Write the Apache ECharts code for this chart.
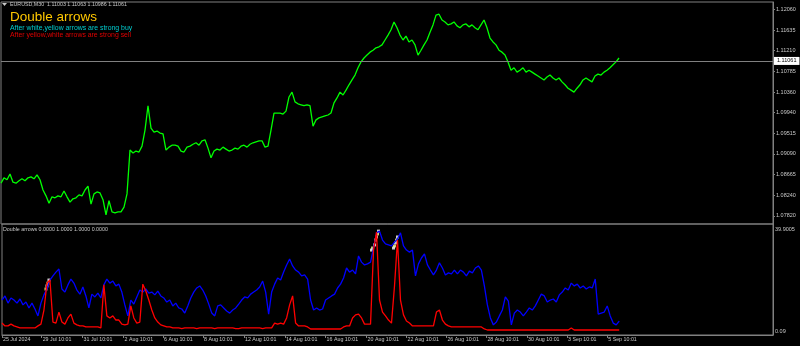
<!DOCTYPE html>
<html><head><meta charset="utf-8">
<script src="https://cdn.jsdelivr.net/npm/echarts@6/dist/echarts.min.js"></script>
<style>html,body{margin:0;padding:0;background:#000;}#c{width:800px;height:346px;}</style>
</head><body><div id="c"></div>
<script>
// ---- header texts ----
const symbolName = "EURUSD,M30";
const ohlc = ["1.11003", "1.11063", "1.10986", "1.11061"];
const indicatorName = "Double arrows";
const indicatorBuffers = ["0.0000", "1.0000", "1.0000", "0.0000"];
const noteBuy = "After white,yellow arrows are strong buy";
const noteSell = "After yellow,white arrows are strong sell";
const lastPrice = 1.11061;

// ---- axes ----
const priceTicks = [1.07820, 1.08240, 1.08665, 1.09090, 1.09515, 1.09940, 1.10360, 1.10785, 1.11210, 1.11635, 1.12060];
const priceMin = 1.07652, priceMax = 1.12210;
const indTicks = [0.09, 39.9005];
const indMin = -1.35, indMax = 41.97;
const xTickLabels = ["25 Jul 2024", "29 Jul 10:01", "31 Jul 10:01", "2 Aug 10:01", "6 Aug 10:01", "8 Aug 10:01", "12 Aug 10:01", "14 Aug 10:01", "16 Aug 10:01", "20 Aug 10:01", "22 Aug 10:01", "26 Aug 10:01", "28 Aug 10:01", "30 Aug 10:01", "3 Sep 10:01", "5 Sep 10:01"];
const xTickPos = [0, 13.23, 26.9, 40.57, 53.77, 67.1, 80.77, 94.43, 108, 121.67, 135, 148.33, 161.67, 175.23, 188.57, 202];
const xMax = 257.33;

// ---- series (one sample per step) ----
const priceClose = [
1.0849,1.0860,1.0856,1.0868,1.0851,1.0849,1.0854,1.0858,1.0854,1.0860,
1.0862,1.0858,1.0866,1.0856,1.0835,1.0823,1.0808,1.0821,1.0819,1.0823,
1.0821,1.0833,1.0821,1.0810,1.0817,1.0819,1.0825,1.0823,1.0835,1.0843,
1.0806,1.0827,1.0831,1.0829,1.0815,1.0784,1.0813,1.0790,1.0788,1.0790,
1.0790,1.0800,1.0827,1.0917,1.0911,1.0915,1.0913,1.0925,1.0958,1.1008,
1.0962,1.0954,1.0956,1.0952,1.0950,1.0917,1.0923,1.0927,1.0927,1.0925,
1.0915,1.0913,1.0923,1.0925,1.0929,1.0932,1.0927,1.0936,1.0938,1.0921,
1.0901,1.0915,1.0919,1.0917,1.0923,1.0919,1.0915,1.0917,1.0921,1.0919,
1.0925,1.0927,1.0923,1.0929,1.0932,1.0934,1.0936,1.0936,1.0923,1.0925,
1.0958,1.0993,1.0993,1.0993,1.0991,1.0997,1.1026,1.1036,1.1016,1.1012,
1.1010,1.1008,1.1010,1.1008,1.0966,1.0979,1.0983,1.0985,1.0987,1.0989,
1.0993,1.1014,1.1024,1.1036,1.1030,1.1040,1.1051,1.1061,1.1071,1.1086,
1.1098,1.1106,1.1112,1.1118,1.1122,1.1127,1.1129,1.1133,1.1143,1.1153,
1.1164,1.1180,1.1168,1.1153,1.1143,1.1151,1.1139,1.1143,1.1133,1.1112,
1.1122,1.1133,1.1143,1.1159,1.1174,1.1194,1.1196,1.1184,1.1180,1.1174,
1.1176,1.1180,1.1172,1.1168,1.1174,1.1176,1.1170,1.1174,1.1168,1.1164,
1.1174,1.1184,1.1168,1.1147,1.1139,1.1133,1.1122,1.1118,1.1112,1.1098,
1.1081,1.1086,1.1077,1.1081,1.1086,1.1077,1.1081,1.1077,1.1073,1.1069,
1.1065,1.1061,1.1067,1.1071,1.1065,1.1061,1.1065,1.1057,1.1051,1.1044,
1.1040,1.1036,1.1044,1.1051,1.1061,1.1065,1.1061,1.1057,1.1069,1.1073,
1.1071,1.1077,1.1081,1.1086,1.1092,1.1098,1.1106];

const blueLine = [
12.3,13.9,11.1,13.1,12.3,11.1,12.7,10.4,11.5,9.2,
11.1,8.8,6.1,11.1,14.3,16.6,20.1,21.7,23.2,24.4,
16.6,15.4,18.2,20.5,18.9,16.2,14.6,17.4,13.9,9.2,
14.6,13.5,15.0,13.1,18.2,20.5,18.9,19.7,17.8,18.5,
15.4,10.4,6.1,12.3,10.7,13.5,16.2,15.4,16.6,15.0,
15.4,14.3,15.8,13.9,13.1,11.5,12.3,10.0,11.1,9.2,
8.8,7.2,10.0,13.1,15.4,17.0,17.8,16.2,13.9,10.7,
7.2,6.1,10.0,10.4,9.2,8.0,7.2,8.4,9.2,10.7,
12.3,13.5,13.1,14.6,15.4,16.2,17.4,19.7,15.4,6.8,
15.4,18.5,20.9,20.1,23.2,26.0,28.3,25.6,24.0,23.2,
21.7,22.1,20.5,12.3,8.4,9.2,8.4,8.8,12.3,13.1,
13.9,14.6,17.0,18.5,20.9,24.8,23.2,24.0,22.5,29.5,
27.1,26.0,26.4,27.1,32.6,38.5,39.2,35.7,34.2,33.8,
33.4,34.9,36.1,38.5,33.4,31.8,31.0,31.8,21.7,26.4,
28.7,30.3,26.0,24.0,22.1,24.0,26.8,24.8,22.1,22.9,
22.5,24.0,22.5,24.0,23.2,21.7,23.6,22.9,24.8,25.6,
24.0,17.8,10.4,5.3,2.6,3.7,6.1,8.4,13.5,11.9,
2.6,7.2,8.4,7.6,6.1,7.6,9.2,8.4,10.0,12.3,
14.6,13.9,11.5,12.3,12.7,11.5,14.3,15.4,17.0,16.2,
18.9,17.8,18.5,17.0,17.8,16.6,17.4,17.0,20.5,6.8,
7.2,7.6,10.0,6.1,3.3,2.6,4.1];

const redLine = [
3.3,2.2,2.2,2.9,2.2,1.8,1.4,1.4,1.4,1.4,
1.4,1.4,2.2,2.9,8.4,18.9,20.1,3.7,3.3,7.6,
3.7,2.9,5.3,6.8,3.3,2.6,2.2,2.2,1.8,1.8,
1.8,1.8,1.8,1.4,18.2,6.1,5.3,6.1,4.5,4.5,
2.9,2.6,2.9,10.0,5.3,3.3,3.7,18.5,15.8,12.3,
8.4,5.3,3.7,2.6,2.2,1.8,1.8,1.4,1.4,1.4,
1.1,1.4,1.4,1.4,1.4,1.1,1.4,1.4,1.4,1.4,
1.4,1.1,1.4,1.4,1.4,1.4,1.4,1.4,1.1,1.1,
1.4,1.4,1.4,1.4,1.4,1.4,1.4,1.1,1.4,1.4,
1.4,3.3,2.9,3.3,2.9,5.3,10.4,13.9,3.3,2.2,
2.2,2.2,1.8,1.0,1.0,1.0,1.0,1.0,1.0,1.0,
1.0,1.0,1.0,1.0,1.8,2.2,2.2,5.3,6.5,6.8,
5.3,2.9,2.9,2.9,31.8,38.8,12.3,7.6,6.1,4.5,
3.3,17.8,35.7,12.3,6.5,4.1,3.3,2.2,2.2,2.2,
2.2,2.2,2.2,2.2,2.2,7.6,8.4,4.5,2.9,2.2,
1.8,1.8,1.8,1.8,1.8,1.8,1.8,1.8,1.8,1.8,
1.8,1.0,0.6,0.6,0.6,0.6,0.6,0.6,0.6,0.6,
0.6,0.6,0.6,0.6,0.6,0.6,0.6,0.6,0.6,0.6,
0.6,0.6,0.6,0.6,0.6,0.6,0.6,0.6,0.6,0.6,
1.4,0.6,0.6,0.6,0.6,0.6,0.6,0.6,0.6,0.6,
0.6,0.6,0.6,0.6,0.6,0.6,0.6];

// arrow signals (bar position, indicator level)
const whiteArrowPos = [15.67, 15.0, 124.33, 123.33, 125.67, 125.0, 132.0, 131.33, 130.67];
const whiteArrowVal = [20.1, 17.8, 33.8, 31.8, 39.2, 36.9, 36.9, 34.6, 32.6];
const yellowArrowPos = [15.33, 14.67, 123.67, 125.33, 124.67, 131.67, 131.0];
const yellowArrowVal = [18.9, 16.6, 32.6, 38.1, 35.7, 35.7, 33.4];

// ---- build ----
const FONT = "'Liberation Sans', Arial, sans-serif";
const GRAY = '#808080';
const TXT = '#c8c8c8';
const toPairs = (arr) => arr.map((v, i) => [i, v]);
const zip = (xs, vs) => xs.map((x, i) => [x, vs[i]]);
function xLabel(v) {
  let best = 0, d = Infinity;
  xTickPos.forEach((p, i) => { if (Math.abs(p - v) < d) { d = Math.abs(p - v); best = i; } });
  return xTickLabels[best];
}

const chart = echarts.init(document.getElementById('c'), null, { renderer: 'canvas' });
chart.setOption({
  backgroundColor: '#000000',
  animation: false,
  grid: [
    { left: 1, right: 27, top: 2, height: 222, show: true, borderColor: GRAY, borderWidth: 1, backgroundColor: 'transparent' },
    { left: 1, right: 27, top: 224, height: 111, show: true, borderColor: GRAY, borderWidth: 1, backgroundColor: 'transparent' }
  ],
  xAxis: [
    { gridIndex: 0, type: 'value', min: 0, max: xMax, show: false },
    { gridIndex: 1, type: 'value', min: 0, max: xMax,
      axisLine: { show: true, onZero: false, lineStyle: { color: GRAY } },
      axisTick: { show: true, customValues: xTickPos, length: 3, lineStyle: { color: GRAY } },
      axisLabel: { customValues: xTickPos, formatter: xLabel, color: TXT, fontSize: 5.3, fontFamily: FONT, align: 'left', margin: 2, padding: [0, 0, 0, 1] },
      splitLine: { show: false } }
  ],
  yAxis: [
    { gridIndex: 0, type: 'value', position: 'right', min: priceMin, max: priceMax,
      axisLine: { show: true, onZero: false, lineStyle: { color: GRAY } },
      axisTick: { show: true, customValues: priceTicks, length: 2, lineStyle: { color: GRAY } },
      axisLabel: { customValues: priceTicks, formatter: (v) => v.toFixed(5), color: TXT, fontSize: 5.5, fontFamily: FONT, margin: 3 },
      splitLine: { show: false } },
    { gridIndex: 1, type: 'value', position: 'right', min: indMin, max: indMax,
      axisLine: { show: true, onZero: false, lineStyle: { color: GRAY } },
      axisTick: { show: false },
      axisLabel: { customValues: indTicks, formatter: (v) => String(v), color: TXT, fontSize: 5.5, fontFamily: FONT, margin: 2 },
      splitLine: { show: false } }
  ],
  series: [
    { type: 'line', xAxisIndex: 0, yAxisIndex: 0, data: toPairs(priceClose), showSymbol: false,
      lineStyle: { color: '#00ff00', width: 1.3 },
      markLine: { symbol: 'none', silent: true, data: [{ yAxis: lastPrice }],
        lineStyle: { color: GRAY, width: 1, type: 'solid' },
        label: { show: true, position: 'end', formatter: lastPrice.toFixed(5), backgroundColor: '#ffffff', color: '#000000',
          fontSize: 5.5, fontFamily: FONT, padding: [1, 3], distance: 1 } } },
    { type: 'line', xAxisIndex: 1, yAxisIndex: 1, data: toPairs(blueLine), showSymbol: false,
      lineStyle: { color: '#0000ff', width: 1.3 } },
    { type: 'line', xAxisIndex: 1, yAxisIndex: 1, data: toPairs(redLine), showSymbol: false,
      lineStyle: { color: '#ff0000', width: 1.3 } },
    { type: 'scatter', xAxisIndex: 1, yAxisIndex: 1, data: zip(yellowArrowPos, yellowArrowVal), symbol: 'rect', symbolSize: 3,
      itemStyle: { color: '#ffff90' } },
    { type: 'scatter', xAxisIndex: 1, yAxisIndex: 1, data: zip(whiteArrowPos, whiteArrowVal), symbol: 'rect', symbolSize: 3,
      itemStyle: { color: '#ffffff' } }
  ],
  graphic: [
    { type: 'polygon', z: 100, shape: { points: [[2, 3], [7, 3], [4.5, 6]] }, style: { fill: TXT } },
    { type: 'text', z: 100, x: 10, y: 5, style: { text: symbolName + '  ' + ohlc.join(' '), fill: TXT, fontSize: 5.3, fontFamily: FONT, verticalAlign: 'middle' } },
    { type: 'text', z: 100, x: 10, y: 17.7, style: { text: indicatorName, fill: '#ffc800', fontSize: 13.5, fontFamily: FONT, verticalAlign: 'middle' } },
    { type: 'text', z: 100, x: 10, y: 27.7, style: { text: noteBuy, fill: '#00ced1', fontSize: 6.9, fontFamily: FONT, verticalAlign: 'middle' } },
    { type: 'text', z: 100, x: 10, y: 34.7, style: { text: noteSell, fill: '#e00000', fontSize: 6.9, fontFamily: FONT, verticalAlign: 'middle' } },
    { type: 'text', z: 100, x: 3, y: 230, style: { text: indicatorName + ' ' + indicatorBuffers.join(' '), fill: TXT, fontSize: 5.3, fontFamily: FONT, verticalAlign: 'middle' } }
  ]
});
</script></body></html>
